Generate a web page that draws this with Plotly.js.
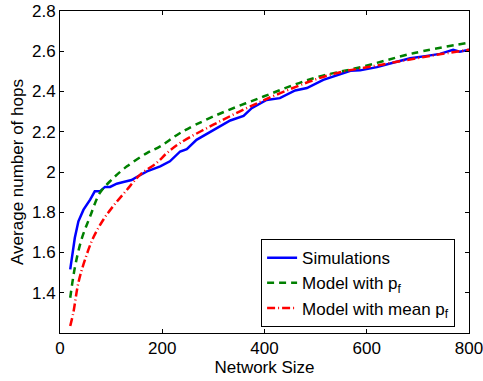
<!DOCTYPE html>
<html>
<head>
<meta charset="utf-8">
<script src="https://cdn.plot.ly/plotly-3.0.1.min.js"></script>
<style>body{margin:0;padding:0;background:#fff}#chart{width:483px;height:381px}</style>
</head>
<body>
<div id="chart"></div>
<script>
const simX = [20, 29, 36, 46, 59, 68, 78, 88, 98, 111, 124, 140, 150, 170, 196, 215, 235, 248, 267, 300, 333, 359, 375, 404, 430, 460, 483, 515, 545, 568, 587, 620, 653, 685, 718, 743, 769, 782, 800];
const simY = [1.516, 1.673, 1.755, 1.813, 1.863, 1.904, 1.904, 1.926, 1.926, 1.942, 1.95, 1.96, 1.975, 2.003, 2.028, 2.053, 2.102, 2.114, 2.16, 2.21, 2.256, 2.279, 2.317, 2.358, 2.367, 2.405, 2.417, 2.458, 2.483, 2.503, 2.505, 2.521, 2.544, 2.565, 2.577, 2.587, 2.607, 2.598, 2.607];
const pfX = [20, 29, 42, 59, 78, 101, 131, 170, 196, 235, 300, 398, 496, 593, 691, 800];
const pfY = [1.375, 1.524, 1.664, 1.78, 1.896, 1.962, 2.028, 2.094, 2.127, 2.194, 2.276, 2.375, 2.466, 2.524, 2.59, 2.643];
const meanX = [20, 26, 36, 49, 65, 85, 104, 131, 157, 189, 209, 235, 300, 365, 431, 528, 626, 724, 800];
const meanY = [1.235, 1.30, 1.45, 1.565, 1.673, 1.764, 1.83, 1.912, 1.987, 2.045, 2.094, 2.144, 2.235, 2.317, 2.392, 2.483, 2.532, 2.577, 2.607];
const names = ["Simulations", "Model with p<sub>f</sub>", "Model with mean p<sub>f</sub>"];
const xTicks = [0, 200, 400, 600, 800];
const yTicks = [1.4, 1.6, 1.8, 2, 2.2, 2.4, 2.6, 2.8];

const FONT = "Liberation Sans, Arial, Helvetica, sans-serif";
const traces = [
  {x: simX, y: simY, name: names[0], mode: "lines", line: {color: "#0000ff", width: 2.5}},
  {x: pfX, y: pfY, name: names[1], mode: "lines", line: {color: "#008000", width: 2.5, dash: "7px,5px", shape: "spline"}},
  {x: meanX, y: meanY, name: names[2], mode: "lines", line: {color: "#ff0000", width: 2.5, dash: "8px,3px,1px,3px", shape: "spline"}}
];
const axisCommon = {
  showgrid: false, zeroline: false, showline: true, linecolor: "#000", linewidth: 1,
  mirror: "allticks", ticks: "inside", ticklen: 4, tickcolor: "#000",
  ticklabeloverflow: "allow",
  tickfont: {family: FONT, size: 17, color: "#000"}
};
const layout = {
  width: 483, height: 381,
  margin: {l: 60, r: 14, t: 11, b: 48},
  paper_bgcolor: "#fff", plot_bgcolor: "#fff",
  font: {family: FONT, color: "#000"},
  xaxis: Object.assign({}, axisCommon, {range: [0, 800], tickvals: xTicks, ticktext: xTicks.map(String),
    title: {text: "Network Size", font: {size: 17}, standoff: 0}}),
  yaxis: Object.assign({}, axisCommon, {range: [1.2, 2.8], tickvals: yTicks, ticktext: yTicks.map(String),
    title: {text: "Average number of hops", font: {size: 17}, standoff: 4}}),
  showlegend: true,
  legend: {x: 0.966, xanchor: "right", y: 0.018, yanchor: "bottom", bgcolor: "#fff",
    bordercolor: "#000", borderwidth: 1, font: {size: 17}, tracegroupgap: 0, itemwidth: 30}
};
Plotly.newPlot("chart", traces, layout, {displayModeBar: false, staticPlot: true});
</script>
</body>
</html>
